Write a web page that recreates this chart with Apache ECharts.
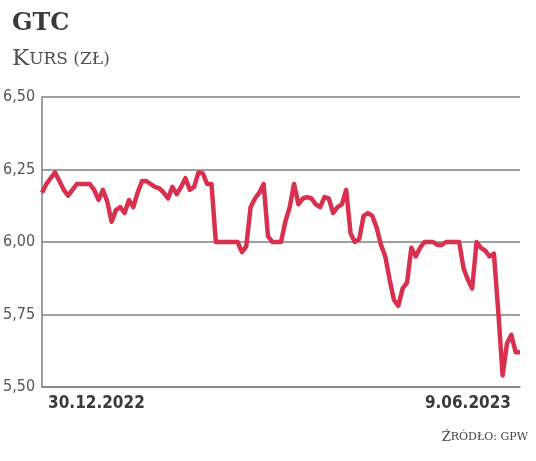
<!DOCTYPE html>
<html>
<head>
<meta charset="utf-8">
<script src="https://cdn.jsdelivr.net/npm/echarts@6/dist/echarts.min.js"></script>
<style>
html,body{margin:0;padding:0;background:#fff;}
#chart{width:536px;height:461px;}
</style>
</head>
<body>
<div id="chart"></div>
<script>
// kurs GTC, notowania dzienne 30.12.2022 - 9.06.2023
var prices = [
	6.17,6.20,6.22,6.24,6.21,6.18,6.16,6.18,6.20,6.20,
	6.20,6.20,6.18,6.145,6.18,6.14,6.07,6.11,6.12,6.10,
	6.145,6.12,6.17,6.21,6.21,6.20,6.19,6.185,6.17,6.15,
	6.19,6.165,6.19,6.22,6.18,6.19,6.24,6.237,6.20,6.20,
	6.00,6.00,6.00,6.00,6.00,6.00,5.965,5.985,6.12,6.15,
	6.17,6.20,6.02,6.00,6.00,6.00,6.07,6.12,6.20,6.13,
	6.15,6.155,6.15,6.13,6.12,6.155,6.15,6.10,6.12,6.13,
	6.18,6.03,6.00,6.01,6.09,6.10,6.09,6.05,5.99,5.95,
	5.87,5.80,5.78,5.84,5.86,5.98,5.95,5.98,6.00,6.00,
	6.00,5.99,5.99,6.00,6.00,6.00,6.00,5.91,5.87,5.84,
	6.00,5.98,5.97,5.95,5.96,5.76,5.54,5.65,5.68,5.62,
	5.62
];
var xLabels = ['30.12.2022','9.06.2023'];
var yMin = 5.5, yMax = 6.5, yStep = 0.25;

var days = [];
for(var i=0;i<prices.length;i++){
	days.push(i);
}

var condensed = "'DejaVu Sans Condensed', 'Roboto', sans-serif";

var myChart = echarts.init(document.getElementById('chart'));
var option = {
	animation : false,
	title : [ {
		text : 'GTC',
		left : 7,
		top : 7,
		textStyle : {
			fontFamily : 'DejaVu Serif',
			fontWeight : 'bold',
			fontSize : 24,
			color : '#3a3a3a'
		}
	}, {
		text : '{a|K}{b|URS (ZŁ)}',
		left : 7,
		top : 43,
		textStyle : {
			fontWeight : 'normal',
			rich : {
				a : { fontFamily : 'DejaVu Serif', fontWeight : 'normal', fontSize : 23, color : '#505050' },
				b : { fontFamily : 'DejaVu Serif', fontWeight : 'normal', fontSize : 17, color : '#505050' }
			}
		}
	}, {
		text : '{a|Ź}{b|RÓDŁO: GPW}',
		right : 3,
		top : 426,
		textStyle : {
			fontWeight : 'normal',
			rich : {
				a : { fontFamily : 'DejaVu Serif', fontWeight : 'normal', fontSize : 13, color : '#444' },
				b : { fontFamily : 'DejaVu Serif', fontWeight : 'normal', fontSize : 11, color : '#444' }
			}
		}
	} ],
	grid : {
		left : 42,
		right : 16,
		top : 97,
		bottom : 74
	},
	xAxis : {
		type : 'category',
		boundaryGap : false,
		data : days,
		axisLine : { show : true, lineStyle : { color : '#808080', width : 1.5 } },
		axisTick : { show : false },
		axisLabel : {
			interval : function(idx){
				return idx == 0 || idx == prices.length-1;
			},
			formatter : function(v, idx){
				return idx == 0 ? xLabels[0] : xLabels[1];
			},
			alignMinLabel : 'left',
			alignMaxLabel : 'right',
			padding : [0, 9, 0, 6],
			margin : 8,
			fontFamily : condensed,
			fontWeight : 'bold',
			fontSize : 17,
			color : '#3a3a3a'
		}
	},
	yAxis : {
		type : 'value',
		min : yMin,
		max : yMax,
		interval : yStep,
		axisLine : { show : true, lineStyle : { color : '#808080', width : 1.5 } },
		axisTick : { show : false },
		splitLine : { lineStyle : { color : '#808080', width : 1.5 } },
		axisLabel : {
			formatter : function(v){
				return v.toFixed(2).replace('.', ',');
			},
			margin : 7,
			fontFamily : condensed,
			fontSize : 16,
			color : '#555'
		}
	},
	series : [ {
		name : 'GTC',
		type : 'line',
		data : prices,
		symbol : 'none',
		lineStyle : { color : '#d8314f', width : 4.5, join : 'round' }
	} ]
};
myChart.setOption(option);
</script>
</body>
</html>
